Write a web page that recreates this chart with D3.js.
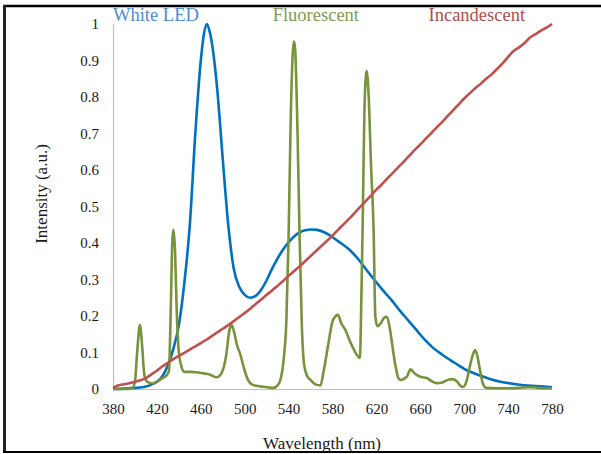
<!DOCTYPE html>
<html>
<head>
<meta charset="utf-8">
<script src="https://d3js.org/d3.v7.min.js"></script>
<style>
  body { margin: 0; background: #fff; }
  svg { display: block; }
  text { font-family: "Liberation Serif", "Times New Roman", serif; }
  .axis path { stroke: #bfbfbf; stroke-width: 1.2; }
  .axis text { font-size: 15px; fill: #1a1a1a; }
</style>
</head>
<body>
<div id="chart"></div>
<script>
// series names and colours
var seriesNames = ["White LED", "Fluorescent", "Incandescent"];
var seriesColors = ["#0070C0", "#77933C", "#C0504D"];
var labelColors = ["#4A8BD6", "#7E9C4C", "#B04E4B"];

var xTicks = [380, 420, 460, 500, 540, 580, 620, 660, 700, 740, 780];
var yTicks = [0, 0.1, 0.2, 0.3, 0.4, 0.5, 0.6, 0.7, 0.8, 0.9, 1];

// white LED spectrum [wavelength, intensity]
var ledData = [
  [380,0],[390,0.001],[400,0.003],[410,0.007],[415,0.012],[420,0.02],[425,0.035],
  [430,0.065],[435,0.11],[440,0.175],[445,0.29],[450,0.45],[455,0.7],[460,0.9],
  [463,0.975],[465.5,1],[468,0.98],[471,0.93],[475,0.82],[480,0.63],[485,0.45],
  [490,0.33],[495,0.28],[500,0.258],[505,0.25],[510,0.255],[515,0.272],[520,0.298],
  [525,0.33],[530,0.358],[535,0.382],[540,0.402],[545,0.418],[550,0.429],[555,0.435],
  [561,0.437],[566,0.436],[572,0.43],[578,0.42],[585,0.405],[596,0.38],[605,0.35],
  [611,0.326],[618,0.3],[626,0.27],[634,0.243],[641,0.216],[649,0.188],[657,0.16],
  [664,0.135],[672,0.112],[680,0.094],[687,0.08],[695,0.065],[702,0.052],[710,0.042],
  [717,0.034],[725,0.026],[733,0.02],[745,0.014],[755,0.01],[765,0.008],[780,0.005]
];

// fluorescent spectrum
var fluoData = [
  [380,0],[390,0],[397,0.001],[400,0.02],[402,0.1],[404.5,0.175],[406.5,0.12],
  [408.5,0.04],[411,0.02],[416,0.015],[420,0.02],[425,0.03],[429,0.038],[431,0.05],
  [432.5,0.2],[434,0.4],[435,0.437],[436.5,0.38],[438,0.22],[440,0.1],[442.5,0.06],
  [445,0.047],[450,0.047],[456,0.046],[462,0.043],[468,0.04],[474.5,0.032],[479,0.044],
  [483,0.09],[486,0.16],[488,0.175],[490,0.16],[493,0.12],[496,0.095],[500,0.05],
  [503,0.025],[507,0.012],[512,0.008],[517,0.006],[522,0.004],[526,0.003],[530,0.01],
  [533,0.03],[535.5,0.08],[538,0.19],[540,0.42],[542,0.75],[544,0.93],[545,0.952],
  [546,0.93],[548,0.72],[550,0.42],[552,0.18],[554,0.07],[557,0.035],[560,0.025],
  [565,0.012],[569,0.01],[572,0.05],[576,0.12],[580,0.185],[583,0.2],[585,0.203],
  [588,0.18],[592,0.16],[596,0.13],[600,0.105],[603,0.09],[605,0.085],[606,0.2],
  [607.5,0.45],[609,0.75],[611,0.872],[613,0.8],[615,0.62],[617.5,0.43],[619,0.2],
  [621,0.172],[624,0.18],[627,0.195],[629.5,0.198],[632,0.17],[634.5,0.12],[637,0.07],
  [640,0.03],[642,0.025],[645,0.028],[648,0.035],[651,0.054],[654,0.045],[657,0.038],
  [661,0.033],[666,0.03],[670,0.022],[675,0.016],[680,0.018],[685,0.025],[689,0.027],
  [693,0.022],[697,0.008],[699,0.006],[702,0.02],[705,0.06],[708,0.095],[710,0.107],
  [712,0.09],[714.5,0.05],[717,0.015],[720,0.003],[730,0.002],[740,0.002],[750,0.003],
  [760,0.005],[765,0.004],[770,0.002],[780,0.002]
];

// incandescent spectrum
var incData = [
  [380,0.003],[385,0.01],[390,0.013],[395,0.016],[400,0.02],[405,0.024],[410,0.03],
  [415,0.04],[420,0.05],[425,0.062],[430,0.072],[435,0.082],[440,0.091],[445,0.099],
  [450,0.108],[455,0.117],[460,0.126],[465,0.135],[470,0.145],[475,0.155],[480,0.165],
  [485,0.175],[490,0.186],[495,0.197],[500,0.208],[505,0.22],[510,0.233],[515,0.245],
  [520,0.258],[525,0.27],[530,0.283],[535,0.296],[540,0.31],[545,0.323],[550,0.336],
  [555,0.35],[560,0.364],[565,0.378],[570,0.392],[575,0.406],[580,0.42],[585,0.436],
  [590,0.451],[595,0.466],[600,0.482],[605,0.498],[610,0.514],[615,0.53],[620,0.546],
  [625,0.561],[630,0.577],[635,0.592],[640,0.608],[645,0.623],[650,0.639],[655,0.655],
  [660,0.67],[665,0.686],[670,0.701],[675,0.717],[680,0.732],[685,0.748],[690,0.764],
  [695,0.78],[700,0.796],[705,0.81],[710,0.824],[715,0.836],[720,0.85],[725,0.862],
  [730,0.877],[735,0.892],[740,0.91],[745,0.926],[750,0.936],[755,0.948],[760,0.963],
  [765,0.972],[770,0.982],[775,0.99],[780,1]
];

var W = 601, H = 454;
var margin = {left: 113, right: 49, top: 24, bottom: 65};

var svg = d3.select("#chart").append("svg")
  .attr("width", W).attr("height", H);

var x = d3.scaleLinear().domain([380, 780]).range([margin.left, W - margin.right]);
var y = d3.scaleLinear().domain([0, 1]).range([H - margin.bottom, margin.top]);

svg.append("g")
  .attr("class", "x axis")
  .attr("transform", "translate(0," + y(0) + ")")
  .call(d3.axisBottom(x).tickValues(xTicks).tickSize(0).tickSizeOuter(0).tickPadding(14));

svg.append("g")
  .attr("class", "y axis")
  .attr("transform", "translate(" + x(380) + ",0)")
  .call(d3.axisLeft(y).tickValues(yTicks).tickSize(0).tickSizeOuter(0).tickPadding(14)
    .tickFormat(function(d) { return d3.format("")(d); }));

var line = d3.line()
  .x(function(d) { return x(d[0]); })
  .y(function(d) { return y(d[1]); })
  .curve(d3.curveMonotoneX);

[ledData, fluoData, incData].forEach(function(data, i) {
  svg.append("path")
    .datum(data)
    .attr("fill", "none")
    .attr("stroke", seriesColors[i])
    .attr("stroke-width", 2.6)
    .attr("stroke-linejoin", "round")
    .attr("d", line);
});

// series labels along the top
var labelAt = [380, 525.5, 667.5];
seriesNames.forEach(function(name, i) {
  svg.append("text")
    .attr("x", x(labelAt[i]))
    .attr("y", 21)
    .attr("fill", labelColors[i])
    .style("font-size", "18.5px")
    .text(name);
});

// axis titles
svg.append("text")
  .attr("transform", "translate(47,194) rotate(-90)")
  .attr("text-anchor", "middle")
  .style("font-size", "17px")
  .attr("fill", "#1a1a1a")
  .text("Intensity (a.u.)");

svg.append("text")
  .attr("x", 322).attr("y", 449)
  .attr("text-anchor", "middle")
  .style("font-size", "17px")
  .attr("fill", "#1a1a1a")
  .text("Wavelength (nm)");

// frame
svg.append("line").attr("x1", 3).attr("x2", W).attr("y1", 6).attr("y2", 6)
  .attr("stroke", "#000").attr("stroke-width", 2.5);
svg.append("line").attr("x1", 4.5).attr("x2", 4.5).attr("y1", 5).attr("y2", 453)
  .attr("stroke", "#222").attr("stroke-width", 3);
svg.append("line").attr("x1", 3).attr("x2", W).attr("y1", 452).attr("y2", 452)
  .attr("stroke", "#000").attr("stroke-width", 2);
</script>
</body>
</html>
